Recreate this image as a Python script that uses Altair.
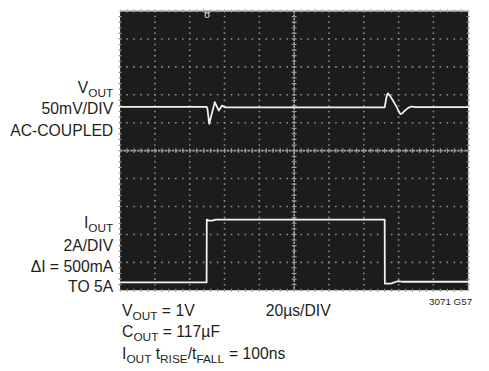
import altair as alt
import pandas as pd

# ---------------- data ----------------
# time in microseconds (20 us / division, 10 divisions)
vout_t_us = [0, 49.8, 50.2, 51.2, 54.4, 56.7, 58.5, 60.5,
             152.0, 153.0, 153.8, 155.0, 157.0, 159.0, 160.2, 161.0, 162.0,
             163.8, 165.5, 167.5, 170.0, 200]
# AC-coupled output deviation, mV
vout_mv = [0.7, 0.7, -3, -29.5, 9.3, -5.8, 3, 0,
           0, 18, 25, 21, 11, 0, -8, -12, -11,
           -5.5, -1, 1.5, 0.3, 0.3]

iout_t_us = [0, 49.7, 49.8, 51.0, 53.0, 55.0, 152.0, 152.1, 155.5, 158.5, 160.0, 162.0, 200]
iout_a = [0.5, 0.5, 5.0, 4.93, 4.93, 5.0, 5.0, 0.42, 0.42, 0.55, 0.6, 0.55, 0.55]

# scope settings (layout of the traces on the 10 x 10 graticule)
VOUT_MV_PER_DIV = 50
VOUT_POS_DIV = 1.55
IOUT_A_PER_DIV = 2
IOUT_ZERO_DIV = -4.97
X_DIVS = [20, 40, 60, 80, 120, 140, 160, 180]
Y_DIVS = [-4, -3, -2, -1, 1, 2, 3, 4]
TRIGGER_US = 50

# ---------------- build tables ----------------
rows = []
for i, (t, v) in enumerate(zip(vout_t_us, vout_mv)):
    rows.append({"t": t, "d": VOUT_POS_DIV + v / VOUT_MV_PER_DIV, "s": "VOUT", "o": i})
for i, (t, a) in enumerate(zip(iout_t_us, iout_a)):
    rows.append({"t": t, "d": IOUT_ZERO_DIV + a / IOUT_A_PER_DIV, "s": "IOUT", "o": i})
traces = pd.DataFrame(rows)

W, H = 354, 284
xs = alt.Scale(domain=[0, 200], nice=False, zero=False)
ys = alt.Scale(domain=[-5, 5], nice=False, zero=False)
GRID = "#8f8f8f"

vgrid = alt.Chart(pd.DataFrame({"t": X_DIVS})).mark_rule(
    color=GRID, strokeWidth=1.6, strokeDash=[1.6, 4.08], strokeDashOffset=0.8
).encode(x=alt.X("t:Q", scale=xs, axis=None), y=alt.value(0), y2=alt.value(H))

hgrid = alt.Chart(pd.DataFrame({"d": Y_DIVS})).mark_rule(
    color=GRID, strokeWidth=1.6, strokeDash=[1.6, 5.48], strokeDashOffset=0.8
).encode(y=alt.Y("d:Q", scale=ys, axis=None), x=alt.value(0), x2=alt.value(W))

# centre axes: dense line plus minor ticks
hcenter = alt.Chart(pd.DataFrame({"d": [0]})).mark_rule(
    color="#a8a8a8", strokeWidth=1.6, strokeDash=[2.5, 1]
).encode(y=alt.Y("d:Q", scale=ys, axis=None), x=alt.value(0), x2=alt.value(W))
hcticks = alt.Chart(pd.DataFrame({"d": [0]})).mark_rule(
    color="#9a9a9a", strokeWidth=5, strokeDash=[1.2, 5.88], strokeDashOffset=0.6
).encode(y=alt.Y("d:Q", scale=ys, axis=None), x=alt.value(0), x2=alt.value(W))
vcenter = alt.Chart(pd.DataFrame({"t": [100]})).mark_rule(
    color="#a8a8a8", strokeWidth=1.6, strokeDash=[2.5, 1]
).encode(x=alt.X("t:Q", scale=xs, axis=None), y=alt.value(0), y2=alt.value(H))
vcticks = alt.Chart(pd.DataFrame({"t": [100]})).mark_rule(
    color="#9a9a9a", strokeWidth=5, strokeDash=[1.2, 4.48], strokeDashOffset=0.6
).encode(x=alt.X("t:Q", scale=xs, axis=None), y=alt.value(0), y2=alt.value(H))

# edge ticks
eticks_v = alt.Chart(pd.DataFrame({"t": [0, 200]})).mark_rule(
    color=GRID, strokeWidth=3, strokeDash=[1.2, 4.48], strokeDashOffset=0.6
).encode(x=alt.X("t:Q", scale=xs, axis=None), y=alt.value(0), y2=alt.value(H))
eticks_h = alt.Chart(pd.DataFrame({"d": [-5, 5]})).mark_rule(
    color=GRID, strokeWidth=3, strokeDash=[1.2, 5.88], strokeDashOffset=0.6
).encode(y=alt.Y("d:Q", scale=ys, axis=None), x=alt.value(0), x2=alt.value(W))

# top frame line
topline = alt.Chart(pd.DataFrame({"d": [5]})).mark_rule(
    color="#b0b0b0", strokeWidth=1.5
).encode(y=alt.Y("d:Q", scale=ys, axis=None), x=alt.value(0), x2=alt.value(W))

# trigger marker
trig = alt.Chart(pd.DataFrame({"t": [TRIGGER_US]})).mark_text(
    text="ʊ", color="#e8e8e8", fontSize=10, font="DejaVu Sans", baseline="alphabetic", align="center"
).encode(x=alt.X("t:Q", scale=xs, axis=None), y=alt.value(7))

lines = alt.Chart(traces).mark_line(color="#f2f2f2", strokeWidth=1.8, strokeJoin="round").encode(
    x=alt.X("t:Q", scale=xs, axis=None),
    y=alt.Y("d:Q", scale=ys, axis=None),
    detail="s:N",
    order="o:Q",
)

# ---------------- text ----------------
AW = {' ': .278, '=': .584, '/': .278, '-': .333, 'µ': .576, 'Δ': .668}
for c in "0123456789":
    AW[c] = .556
AW.update(dict(zip("ABCDEFGHIJKLMNOPQRSTUVWXYZ",
                   [.667, .667, .722, .722, .667, .611, .778, .722, .278, .5, .667, .556, .833,
                    .722, .778, .667, .778, .722, .667, .611, .722, .667, .944, .667, .667, .611])))
AW.update(dict(zip("abcdefghijklmnopqrstuvwxyz",
                   [.556, .556, .5, .556, .556, .278, .556, .556, .222, .222, .5, .222, .833,
                    .556, .556, .556, .556, .333, .5, .278, .556, .5, .722, .5, .5, .5])))


def tw(s, size):
    return sum(AW.get(c, .556) for c in s) * size


MAIN, SUB, SUBDY = 16, 12, 4
OX, OY = 122, 8  # page position of plot origin

left_items = []   # left aligned
right_items = []  # right aligned


def run(x0, yb, pieces):
    x = x0
    for txt, sub in pieces:
        size = SUB if sub else MAIN
        lead = len(txt) - len(txt.lstrip(" "))
        x += tw(" " * lead, size)
        body = txt.lstrip(" ")
        left_items.append({"txt": body, "x": x - OX, "y": yb + (SUBDY if sub else 0) - OY, "size": size})
        x += tw(body, size)


row1 = [("V", 0), ("OUT", 1), (" = 1V", 0)]
row2 = [("C", 0), ("OUT", 1), (" = 117µF", 0)]
row3 = [("I", 0), ("OUT", 1), (" t", 0), ("RISE", 1), ("/t", 0), ("FALL", 1), (" = 100ns", 0)]
run(124, 318, row1)
run(124, 340, row2)
run(124, 361.5, row3)
run(270, 318, [("20µs/DIV", 0)])

RX = 115


def rlabel(main, sub, yb):
    right_items.append({"txt": sub, "x": RX - OX, "y": yb + SUBDY - OY, "size": SUB})
    right_items.append({"txt": main, "x": RX - tw(sub, SUB) - OX, "y": yb - OY, "size": MAIN})


rlabel("V", "OUT", 91)
for txt, yb in [("50mV/DIV", 113), ("AC-COUPLED", 135), ("2A/DIV", 252),
                ("ΔI = 500mA", 273), ("TO 5A", 294)]:
    right_items.append({"txt": txt, "x": RX - OX, "y": yb - OY, "size": MAIN})
rlabel("I", "OUT", 229)
right_items.append({"txt": "3071 G57", "x": 480 - OX, "y": 306.5 - OY, "size": 10})

FONT = "Liberation Sans, Arial, sans-serif"


def text_layer(items, align):
    return alt.Chart(pd.DataFrame(items)).mark_text(
        align=align, baseline="alphabetic", font=FONT, color="#231f20"
    ).encode(
        x=alt.X("x:Q", scale=None),
        y=alt.Y("y:Q", scale=None),
        size=alt.Size("size:Q", scale=None, legend=None),
        text="txt:N",
    )


chart = alt.layer(
    vgrid, hgrid, eticks_v, eticks_h, hcenter, hcticks, vcenter, vcticks, topline, trig, lines,
    text_layer(left_items, "left"), text_layer(right_items, "right"),
).properties(
    width=W, height=H,
    autosize=alt.AutoSizeParams(type="none"),
    padding={"left": 114, "top": 0, "right": 13, "bottom": 76},
    background="white",
).configure_view(fill="#1c1c1c", strokeWidth=0)

chart.save("out.html", embed_options={"renderer": "svg", "actions": False})
